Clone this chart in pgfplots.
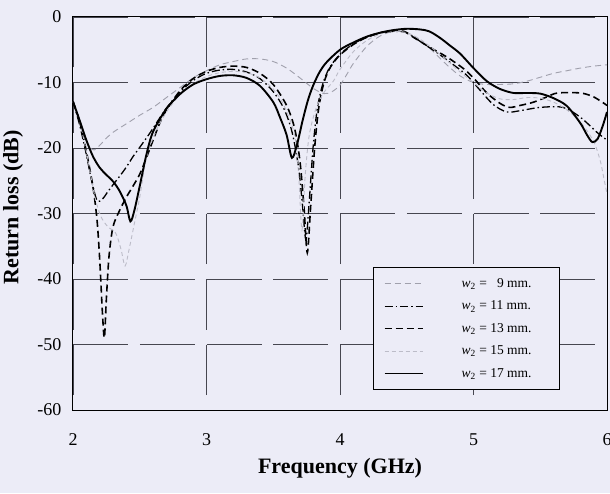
\documentclass[border=0pt]{standalone}
\usepackage{fontspec}
\setmainfont{Liberation Serif}
\usepackage{pgfplots}
\pgfplotsset{compat=1.18}
\definecolor{bg}{RGB}{236,236,247}
\definecolor{gridc}{RGB}{70,70,80}
\definecolor{g9}{RGB}{160,160,172}
\definecolor{g15}{RGB}{188,188,200}
\begin{document}
\begin{tikzpicture}
\fill[bg] (-73pt,-83pt) rectangle (537pt,410pt);
\begin{axis}[
  at={(0pt,0pt)}, anchor=south west,
  scale only axis, width=534pt, height=393pt,
  xmin=2, xmax=6, ymin=-60, ymax=0,
  xtick={2,3,4,5,6}, xticklabels={2,3,4,5,6},
  ytick={-60,-50,-40,-30,-20,-10,0},
  yticklabels={-60,-50,-40,-30,-20,-10,0},
  major tick length=0pt,
  xmajorgrids, ymajorgrids,
  y grid style={gridc, line width=0.9pt, dash pattern=on 55pt off 11.75pt},
  x grid style={gridc, line width=0.9pt, dash pattern=on 50.5pt off 15pt, dash phase=50.5pt},
  axis line style={black, line width=1pt},
  axis background/.style={fill=bg},
  ticklabel style={font=\fontsize{18}{20}\selectfont},
  xticklabel style={anchor=center, yshift=-30pt},
  yticklabel style={anchor=east, xshift=-8pt},
  xlabel={Frequency (GHz)}, ylabel={Return loss (dB)},
  label style={font=\fontsize{22}{24}\selectfont\bfseries},
  xlabel style={at={(axis description cs:0.5,-0.1476)}, anchor=center},
  ylabel style={at={(axis description cs:-0.112,0.516)}, anchor=center},
  legend style={at={(axis cs:4.25,-38.2)}, anchor=north west, draw=black, line width=0.8pt,
    fill=bg, font=\fontsize{13.5}{15}\selectfont, inner xsep=10pt, inner ysep=9pt, row sep=8pt,
    /tikz/every odd column/.append style={column sep=36pt}},
  legend cell align=left,
  legend image code/.code={\draw[#1] (0pt,0pt) -- (38pt,0pt);},
]
\addplot[g9, line width=0.9pt, dash pattern=on 6pt off 4pt, smooth] coordinates {
(2.00,-12.9)(2.04,-15.5)(2.08,-18.0)(2.12,-19.8)(2.16,-20.3)(2.20,-19.6)(2.25,-18.5)(2.30,-17.6)(2.40,-16.3)(2.50,-15.0)(2.60,-13.8)(2.70,-12.3)(2.80,-10.8)(2.90,-9.3)(3.00,-8.2)(3.10,-7.3)(3.20,-6.8)(3.30,-6.4)(3.40,-6.4)(3.50,-6.8)(3.60,-7.8)(3.70,-9.3)(3.80,-10.9)(3.88,-11.7)(3.94,-11.4)(4.00,-10.4)(4.05,-8.8)(4.10,-7.1)(4.20,-4.5)(4.30,-2.9)(4.40,-2.2)(4.50,-2.4)(4.60,-3.5)(4.70,-5.3)(4.80,-7.3)(4.90,-9.0)(5.00,-10.0)(5.10,-10.3)(5.20,-10.3)(5.30,-10.2)(5.40,-9.8)(5.50,-9.2)(5.60,-8.6)(5.70,-8.2)(5.80,-7.8)(5.90,-7.5)(6.00,-7.3)};
\addlegendentry{\makebox[86pt][l]{\textit{w}\textsubscript{2} = \phantom{1}9 mm.}}
\addplot[black, line width=1.3pt, dash pattern=on 8pt off 3pt on 1.5pt off 3pt, smooth] coordinates {
(2.00,-12.9)(2.05,-16.5)(2.10,-21.0)(2.14,-25.0)(2.18,-28.0)(2.22,-27.8)(2.26,-26.7)(2.30,-25.6)(2.35,-24.3)(2.40,-22.9)(2.45,-21.3)(2.50,-19.9)(2.58,-17.6)(2.65,-15.4)(2.70,-13.9)(2.80,-11.5)(2.90,-9.7)(3.00,-8.6)(3.10,-8.1)(3.20,-8.0)(3.30,-8.4)(3.40,-9.4)(3.50,-11.4)(3.58,-14.0)(3.64,-17.5)(3.69,-23.0)(3.72,-29.0)(3.745,-34.0)(3.77,-28.0)(3.80,-19.5)(3.83,-14.0)(3.87,-10.3)(3.92,-7.8)(4.00,-5.7)(4.10,-4.1)(4.20,-3.1)(4.30,-2.5)(4.40,-2.2)(4.50,-2.4)(4.62,-4.0)(4.73,-5.5)(4.85,-7.3)(4.95,-8.9)(5.05,-11.2)(5.15,-13.4)(5.25,-14.5)(5.35,-14.3)(5.50,-13.8)(5.67,-13.8)(5.80,-15.3)(5.93,-17.7)(6.00,-18.8)};
\addlegendentry{\makebox[86pt][l]{\textit{w}\textsubscript{2} = 11 mm.}}
\addplot[black, line width=1.6pt, dash pattern=on 7pt off 4pt, smooth] coordinates {
(2.00,-12.9)(2.05,-16.0)(2.10,-20.5)(2.15,-26.0)(2.18,-31.0)(2.20,-37.0)(2.22,-45.0)(2.235,-49.0)(2.25,-43.0)(2.27,-36.5)(2.30,-32.0)(2.35,-29.5)(2.40,-27.5)(2.45,-25.8)(2.50,-24.0)(2.55,-21.5)(2.60,-18.8)(2.65,-16.2)(2.70,-14.2)(2.80,-11.3)(2.90,-9.4)(3.00,-8.3)(3.10,-7.7)(3.20,-7.5)(3.30,-7.7)(3.40,-8.6)(3.50,-10.3)(3.60,-13.5)(3.66,-17.0)(3.70,-22.0)(3.73,-29.0)(3.755,-36.0)(3.78,-29.0)(3.81,-20.0)(3.84,-14.0)(3.88,-10.0)(3.93,-7.6)(4.00,-5.8)(4.10,-4.2)(4.20,-3.1)(4.30,-2.4)(4.40,-2.1)(4.48,-2.2)(4.55,-3.1)(4.67,-4.6)(4.80,-6.1)(4.92,-7.8)(5.00,-9.3)(5.10,-11.6)(5.20,-13.2)(5.27,-13.8)(5.35,-13.5)(5.45,-13.0)(5.55,-12.2)(5.63,-11.6)(5.80,-11.6)(5.90,-12.2)(6.00,-13.5)};
\addlegendentry{\makebox[86pt][l]{\textit{w}\textsubscript{2} = 13 mm.}}
\addplot[g15, line width=0.9pt, dash pattern=on 4pt off 3pt, smooth] coordinates {
(2.00,-12.9)(2.05,-16.0)(2.10,-20.5)(2.14,-25.0)(2.17,-28.0)(2.21,-30.5)(2.26,-32.0)(2.32,-33.0)(2.36,-35.5)(2.39,-38.0)(2.42,-35.5)(2.46,-31.5)(2.50,-27.5)(2.55,-21.5)(2.62,-17.5)(2.70,-14.5)(2.80,-11.9)(2.90,-10.2)(3.00,-9.1)(3.10,-8.5)(3.20,-8.3)(3.30,-8.5)(3.40,-9.3)(3.50,-11.0)(3.58,-13.5)(3.66,-18.0)(3.69,-24.0)(3.715,-32.5)(3.74,-24.0)(3.77,-18.0)(3.82,-14.0)(3.88,-11.5)(3.95,-9.8)(4.00,-8.0)(4.10,-5.3)(4.20,-3.6)(4.30,-2.6)(4.40,-2.2)(4.50,-2.4)(4.60,-3.4)(4.70,-4.9)(4.80,-6.6)(4.90,-8.4)(5.00,-10.0)(5.10,-11.6)(5.20,-12.5)(5.30,-12.6)(5.40,-12.3)(5.50,-12.4)(5.60,-13.0)(5.70,-14.2)(5.80,-16.0)(5.90,-19.0)(5.95,-22.0)(5.98,-25.0)(6.00,-27.0)};
\addlegendentry{\makebox[86pt][l]{\textit{w}\textsubscript{2} = 15 mm.}}
\addplot[black, line width=1.9pt, smooth] coordinates {
(2.00,-12.9)(2.05,-15.8)(2.10,-18.8)(2.15,-21.3)(2.20,-23.0)(2.25,-24.1)(2.30,-25.1)(2.35,-26.6)(2.40,-28.8)(2.43,-31.2)(2.46,-29.5)(2.50,-25.8)(2.55,-21.0)(2.60,-17.5)(2.70,-14.0)(2.80,-11.8)(2.90,-10.3)(3.00,-9.5)(3.10,-9.0)(3.20,-8.9)(3.30,-9.3)(3.40,-10.5)(3.50,-13.0)(3.55,-15.3)(3.60,-18.0)(3.64,-21.5)(3.68,-19.3)(3.72,-15.8)(3.76,-12.7)(3.80,-10.4)(3.85,-8.3)(3.90,-6.9)(4.00,-5.0)(4.10,-3.9)(4.20,-3.0)(4.30,-2.4)(4.40,-2.0)(4.50,-1.8)(4.60,-1.9)(4.67,-2.2)(4.75,-3.2)(4.82,-4.3)(4.90,-5.6)(5.00,-7.8)(5.10,-9.8)(5.20,-11.0)(5.30,-11.6)(5.40,-11.6)(5.50,-11.7)(5.60,-12.4)(5.70,-13.6)(5.80,-16.2)(5.85,-18.0)(5.89,-19.1)(5.93,-18.6)(5.97,-16.5)(6.00,-14.5)};
\addlegendentry{\makebox[86pt][l]{\textit{w}\textsubscript{2} = 17 mm.}}
\end{axis}
\pgfresetboundingbox
\path[use as bounding box] (-73pt,-83pt) rectangle (537pt,410pt);
\end{tikzpicture}
\end{document}
